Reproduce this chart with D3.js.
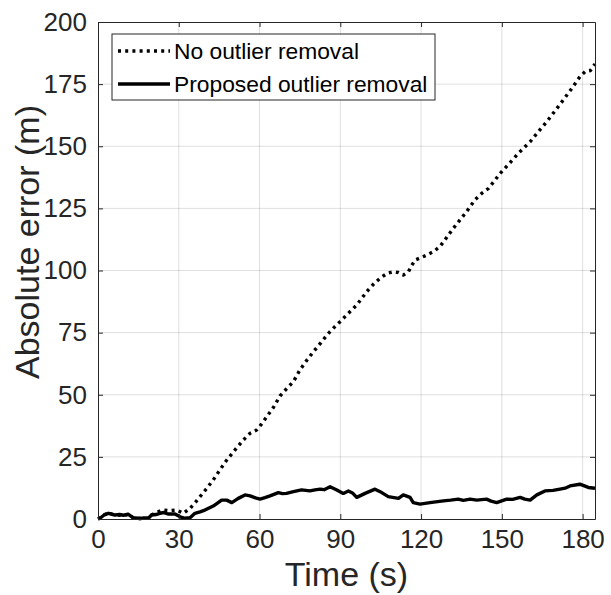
<!DOCTYPE html>
<html>
<head>
<meta charset="utf-8">
<script src="https://cdn.jsdelivr.net/npm/d3@7"></script>
<style>
  html, body { margin: 0; padding: 0; background: #fff; }
  svg { display: block; font-family: "Liberation Sans", Arial, Helvetica, sans-serif; }
</style>
</head>
<body>
<svg id="chart" width="611" height="595"></svg>
<script>
// Absolute position error over time, with and without outlier removal
const xTicks = [0, 30, 60, 90, 120, 150, 180];
const yTicks = [0, 25, 50, 75, 100, 125, 150, 175, 200];
const xDomain = [0, 184.6];
const yDomain = [0, 200];

const seriesNames = ["No outlier removal", "Proposed outlier removal"];

const timeNoRemoval = [
  0, 1, 2.5, 3.8, 6.3, 9.4, 11.3, 13.1, 15.6, 18.7, 19.9, 21.5, 23.7, 26.5, 29.2,
  31.7, 34.2, 36, 37.9, 40.3, 42.8, 45.3, 47.8, 50.9, 54, 56.5, 58.9, 60.8, 62.7,
  65.2, 67.6, 70.1, 72.6, 75, 77.5, 80, 82.8, 85.6, 87.8, 89.9, 93, 96.1, 98.3,
  100.4, 102.6, 104.8, 107.3, 109.7, 111.5, 113.4, 115.3, 116.5, 117.8, 122.1,
  124.6, 127, 129.5, 132, 134.5, 136.9, 140, 142.5, 145, 147.2, 149.3, 152.7,
  156.1, 158.3, 160.5, 163.5, 166.7, 169.8, 172.8, 176, 179, 180.9, 182.8, 184.6
];
const errorNoRemoval = [
  0, 0.5, 1.8, 2.3, 1.6, 1.5, 1.9, 0.5, 0.2, 0.3, 1.6, 2.5, 3.6, 3.4, 3.6,
  2.3, 4.3, 6.5, 9, 12.2, 15.7, 19.8, 23.7, 27.8, 31.8, 34.5, 35.8, 38.3, 41.2,
  45, 49.5, 52.5, 55.3, 60, 63.8, 67.3, 71, 74.7, 77.2, 79.4, 82.8, 86.1, 89.3,
  92.2, 94.8, 96.9, 98.8, 99.5, 99.2, 98.2, 99.5, 102, 104.2, 106.2,
  107.6, 109.6, 113.3, 117, 120.4, 123.7, 128.4, 131, 133, 136, 139, 143,
  147.1, 149.5, 151.8, 155.8, 159.9, 164.3, 168.6, 173.3, 178, 180, 180.4, 183.1
];

const timeProposed = [
  0, 1, 2.5, 3.8, 5, 6.3, 8, 9.4, 11.3, 12.2, 13.1, 15.6, 17, 18.7, 19.9, 21.5,
  23, 24.5, 26, 28.6, 30.5, 32.3, 34.2, 36, 37.9, 39.7, 42.8, 44.5, 45.9, 47.8,
  49.7, 52.1, 54.6, 56.5, 58.5, 60.2, 62, 63.9, 67, 68.5, 70, 72.6, 75.6, 78.7,
  80.6, 82.5, 84, 86.2, 88.7, 91.1, 93, 94.5, 96.1, 99.2, 102.9, 104.8, 107.8,
  111.6, 113.4, 115.9, 117.1, 119.6, 123.3, 128.3, 131, 133.8, 135.7, 138.2,
  140.7, 144.3, 146, 148.1, 151.8, 154, 156.8, 158.5, 160.5, 163, 166, 169,
  171.6, 173.5, 175.3, 179, 182.1, 184.6
];
const errorProposed = [
  0, 0.5, 1.8, 2.3, 2, 1.6, 1.8, 1.5, 1.9, 1.2, 0.5, 0.2, 0.4, 0.3, 1.6, 1.8,
  2.3, 2.6, 2, 2, 0.9, 0.3, 0.5, 2.3, 2.9, 3.6, 5.2, 6.5, 7.6, 7.6,
  6.6, 8.3, 9.7, 9.3, 8.5, 8, 8.6, 9.3, 10.6, 10.2, 10.3, 11, 11.7, 11.3,
  11.7, 12, 11.8, 13, 11.7, 10.3, 11.3, 10.5, 8.7, 10.3, 12, 11, 9,
  8.3, 9.7, 8.7, 6.6, 6, 6.6, 7.3, 7.6, 8, 7.5, 8,
  7.6, 8, 7.2, 6.6, 8, 7.9, 8.7, 8, 7.6, 9.7, 11.3, 11.5,
  12, 12.4, 13.3, 14, 12.7, 12.4
];

const svg = d3.select("#chart");
const margin = { left: 98, top: 22, right: 16, bottom: 76 };
const W = +svg.attr("width"), H = +svg.attr("height");
const iw = W - margin.left - margin.right;
const ih = H - margin.top - margin.bottom;

const x = d3.scaleLinear().domain(xDomain).range([0, iw]);
const y = d3.scaleLinear().domain(yDomain).range([ih, 0]);

const ink = "#262626";
const g = svg.append("g").attr("transform", `translate(${margin.left},${margin.top})`);

// grid
g.append("g").selectAll("line").data(xTicks.filter(t => t > 0)).join("line")
  .attr("x1", d => x(d)).attr("x2", d => x(d)).attr("y1", 0).attr("y2", ih)
  .attr("stroke", ink).attr("stroke-opacity", 0.15).attr("stroke-width", 1);
g.append("g").selectAll("line").data(yTicks.filter(t => t > 0 && t < 200)).join("line")
  .attr("x1", 0).attr("x2", iw).attr("y1", d => y(d)).attr("y2", d => y(d))
  .attr("stroke", ink).attr("stroke-opacity", 0.15).attr("stroke-width", 1);

// data lines
const line = d3.line().x(d => x(d[0])).y(d => y(d[1]));
const noRemoval = d3.zip(timeNoRemoval, errorNoRemoval);
const proposed = d3.zip(timeProposed, errorProposed);

g.append("path").datum(noRemoval).attr("d", line)
  .attr("fill", "none").attr("stroke", "#000").attr("stroke-width", 3.4)
  .attr("stroke-dasharray", "3,4.2").attr("stroke-linejoin", "round");
g.append("path").datum(proposed).attr("d", line)
  .attr("fill", "none").attr("stroke", "#000").attr("stroke-width", 3.4)
  .attr("stroke-linejoin", "round");

// axes with inward ticks on all four sides
const tickLen = 5;
const styleAxis = sel => {
  sel.select(".domain").attr("stroke", ink).attr("stroke-width", 1);
  sel.selectAll(".tick line").attr("stroke", ink);
  sel.selectAll(".tick text").attr("fill", ink).attr("font-size", 26)
    .attr("font-family", "'Liberation Sans', Arial, sans-serif");
};
g.append("g").attr("transform", `translate(0,${ih})`)
  .call(d3.axisBottom(x).tickValues(xTicks).tickSize(-tickLen).tickPadding(11).tickSizeOuter(0))
  .call(styleAxis);
g.append("g")
  .call(d3.axisLeft(y).tickValues(yTicks).tickSize(-tickLen).tickPadding(11).tickSizeOuter(0))
  .call(styleAxis);
g.append("g")
  .call(d3.axisTop(x).tickValues(xTicks).tickSize(-tickLen).tickFormat("").tickSizeOuter(0))
  .call(styleAxis);
g.append("g").attr("transform", `translate(${iw},0)`)
  .call(d3.axisRight(y).tickValues(yTicks).tickSize(-tickLen).tickFormat("").tickSizeOuter(0))
  .call(styleAxis);

// axis titles
svg.append("text").attr("x", margin.left + iw / 2).attr("y", 586)
  .attr("text-anchor", "middle").attr("font-size", 34).attr("fill", ink)
  .text("Time (s)");
svg.append("text")
  .attr("transform", "translate(39,242) rotate(-90)")
  .attr("text-anchor", "middle").attr("font-size", 34).attr("fill", ink)
  .text("Absolute error (m)");

// legend
const lg = svg.append("g").attr("transform", "translate(112,34)");
lg.append("rect").attr("width", 323).attr("height", 66)
  .attr("fill", "#fff").attr("stroke", ink).attr("stroke-width", 1);
const rows = [
  { name: seriesNames[0], dash: "3,4.2", y: 17 },
  { name: seriesNames[1], dash: null, y: 50 }
];
rows.forEach(r => {
  lg.append("line").attr("x1", 6).attr("x2", 58).attr("y1", r.y).attr("y2", r.y)
    .attr("stroke", "#000").attr("stroke-width", 3.4)
    .attr("stroke-dasharray", r.dash);
  lg.append("text").attr("x", 62).attr("y", r.y).attr("dy", "0.36em")
    .attr("font-size", 22.8).attr("fill", "#000").text(r.name);
});
</script>
</body>
</html>
